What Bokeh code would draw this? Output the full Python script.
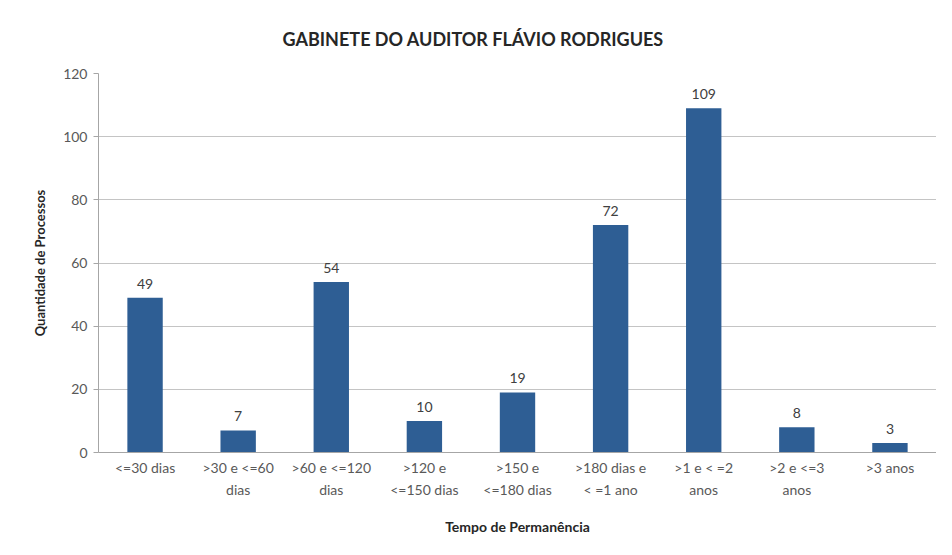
from bokeh.plotting import figure
from bokeh.models import ColumnDataSource, Range1d, LabelSet, SingleIntervalTicker
from bokeh.core.properties import value
from bokeh.embed import file_html
from bokeh.resources import INLINE

categories = ["<=30 dias", ">30 e <=60\ndias", ">60 e <=120\ndias", ">120 e\n<=150 dias",
              ">150 e\n<=180 dias", ">180 dias e\n< =1 ano", ">1 e < =2\nanos",
              ">2 e <=3\nanos", ">3 anos"]
values = [49, 7, 54, 10, 19, 72, 109, 8, 3]

src = ColumnDataSource(dict(cat=categories, val=values, lab=[str(v) for v in values]))

FONT = "Lato"
p = figure(x_range=categories, y_range=Range1d(0, 120), width=936, height=539,
           output_backend="svg", toolbar_location=None,
           title="GABINETE DO AUDITOR FLÁVIO RODRIGUES",
           min_border_left=98, min_border_right=0, min_border_top=73, min_border_bottom=87)

p.vbar(x="cat", top="val", width=0.38, source=src, fill_color="#2E5E94", line_color=None)

labels = LabelSet(x="cat", y="val", text="lab", source=src, text_align="center",
                  text_baseline="bottom", y_offset=9, text_font=value(FONT),
                  text_font_size="14px", text_color="#404040")
p.add_layout(labels)

p.title.align = "left"
p.title.text_font = FONT
p.title.text_font_size = "18px"
p.title.text_font_style = "bold"
p.title.text_color = "#262626"
p.title.offset = 184
p.title.standoff = 48

p.outline_line_color = None
p.xgrid.grid_line_color = None
p.ygrid.grid_line_color = "#C4C4C4"
p.ygrid.grid_line_width = 1

p.yaxis.ticker = SingleIntervalTicker(interval=20)
p.yaxis.axis_label = "Quantidade de Processos"
p.yaxis.axis_label_text_font = FONT
p.yaxis.axis_label_text_font_style = "bold"
p.yaxis.axis_label_text_font_size = "13px"
p.yaxis.axis_label_text_color = "#262626"
p.yaxis.major_label_text_font = FONT
p.yaxis.major_label_text_font_size = "14px"
p.yaxis.major_label_text_color = "#595959"
p.yaxis.minor_tick_line_color = None
p.yaxis.major_tick_in = 0
p.yaxis.major_tick_out = 5
p.yaxis.axis_line_color = "#A6A6A6"
p.yaxis.major_tick_line_color = "#A6A6A6"
p.yaxis.major_label_standoff = 6
p.yaxis.axis_label_standoff = 12

p.xaxis.axis_label = "Tempo de Permanência"
p.xaxis.axis_label_text_font = FONT
p.xaxis.axis_label_text_font_style = "bold"
p.xaxis.axis_label_text_font_size = "14px"
p.xaxis.axis_label_text_color = "#262626"
p.xaxis.major_label_text_font = FONT
p.xaxis.major_label_text_font_size = "14px"
p.xaxis.major_label_text_color = "#595959"
p.xaxis.major_label_text_line_height = 1.35
p.xaxis.major_tick_line_color = None
p.xaxis.axis_line_color = "#A6A6A6"
p.xaxis.major_label_standoff = 0
p.xaxis.axis_label_standoff = 17

open("out.html", "w").write(file_html(p, INLINE))
